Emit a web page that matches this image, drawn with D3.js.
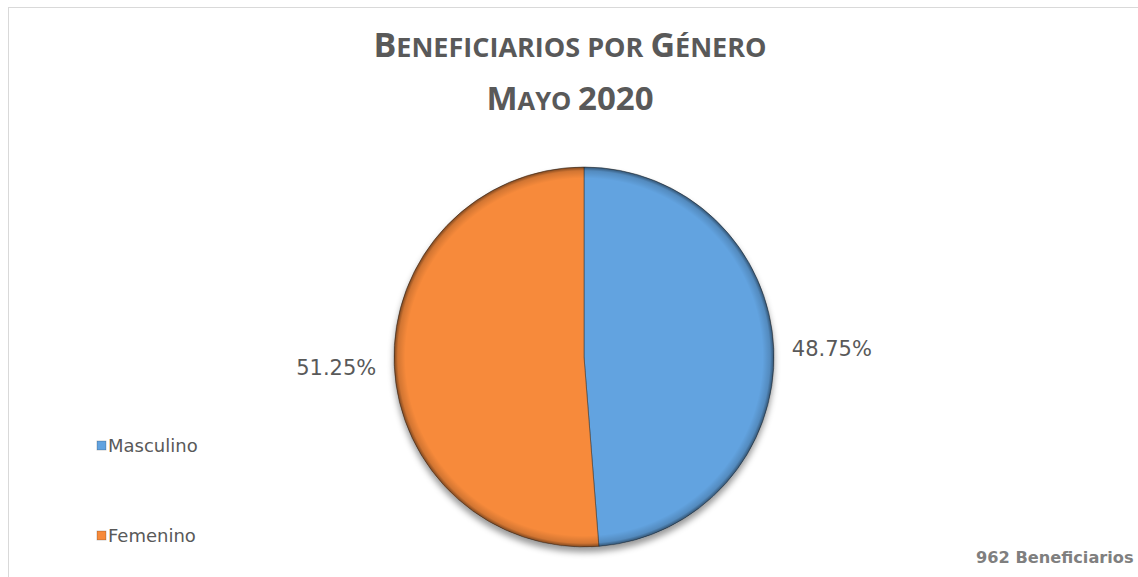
<!DOCTYPE html>
<html>
<head>
<meta charset="utf-8">
<script src="https://cdn.jsdelivr.net/npm/d3@7"></script>
<style>
  html, body { margin: 0; padding: 0; background: #fff; }
  svg { display: block; }
</style>
</head>
<body>
<svg id="chart" width="1138" height="577"></svg>
<script>
const categories = ["Masculino", "Femenino"];
const values = [469, 493];
const percentLabels = ["48.75%", "51.25%"];
const colors = ["#62A3E0", "#F78A3A"];
const titleLine1 = [["B", true], ["ENEFICIARIOS POR ", false], ["G", true], ["ÉNERO", false]];
const titleLine2 = [["M", true], ["AYO ", false], ["2020", true]];
const footerText = "962 Beneficiarios";

const svg = d3.select("#chart");
const W = 1138, H = 577;

// chart frame
svg.append("rect").attr("x", 8.5).attr("y", 7.5).attr("width", W + 10).attr("height", H + 10)
  .attr("fill", "#fff").attr("stroke", "#d9d9d9").attr("stroke-width", 1);

const defs = svg.append("defs");
const f = defs.append("filter").attr("id", "shadow").attr("x", "-20%").attr("y", "-20%").attr("width", "140%").attr("height", "140%");
f.append("feDropShadow").attr("dx", 0).attr("dy", 5).attr("stdDeviation", 3).attr("flood-color", "#000").attr("flood-opacity", 0.4);

const bev = defs.append("radialGradient").attr("id", "bevel").attr("cx", "50%").attr("cy", "50%").attr("r", "50%");
bev.append("stop").attr("offset", "0%").attr("stop-color", "#000").attr("stop-opacity", 0);
bev.append("stop").attr("offset", "94%").attr("stop-color", "#000").attr("stop-opacity", 0);
bev.append("stop").attr("offset", "98%").attr("stop-color", "#000").attr("stop-opacity", 0.15);
bev.append("stop").attr("offset", "100%").attr("stop-color", "#000").attr("stop-opacity", 0.5);

// title
function drawTitle(parts, y, big, small) {
  const t = svg.append("text").attr("x", 570).attr("y", y).attr("text-anchor", "middle")
    .attr("font-family", "'Open Sans', sans-serif").attr("font-weight", "bold").attr("fill", "#595959");
  parts.forEach(([s, isBig]) => t.append("tspan").attr("font-size", isBig ? big : small).text(s));
}
drawTitle(titleLine1, 57, 34, 27);
drawTitle(titleLine2, 110, 33, 25.5);

// pie
const cx = 584, cy = 357, R = 190;
const pie = d3.pie().sort(null).value(d => d)(values);
const arc = d3.arc().innerRadius(0).outerRadius(R);
const g = svg.append("g").attr("transform", `translate(${cx},${cy})`);
const slices = g.append("g").attr("filter", "url(#shadow)");
slices.selectAll("path").data(pie).join("path")
  .attr("d", arc).attr("fill", (d, i) => colors[i])
  .attr("stroke", "#3a3a3a").attr("stroke-opacity", 0.55).attr("stroke-width", 1);
g.append("circle").attr("r", R).attr("fill", "url(#bevel)");

// percent labels
const labelArc = d3.arc().innerRadius(248).outerRadius(248);
g.selectAll("text.lbl").data(pie).join("text").attr("class", "lbl")
  .attr("transform", d => `translate(${labelArc.centroid(d)})`)
  .attr("text-anchor", "middle").attr("dy", "0.4em")
  .attr("font-family", "'DejaVu Sans', sans-serif").attr("font-size", 21).attr("fill", "#595959")
  .text((d, i) => percentLabels[i]);

// legend
const leg = svg.append("g");
categories.forEach((c, i) => {
  const y = 446 + i * 90;
  leg.append("rect").attr("x", 97).attr("y", y - 5).attr("width", 9).attr("height", 9).attr("fill", colors[i])
    .attr("stroke", "#000").attr("stroke-opacity", 0.25).attr("stroke-width", 0.8);
  leg.append("text").attr("x", 108).attr("y", y).attr("dy", "0.35em")
    .attr("font-family", "'DejaVu Sans', sans-serif").attr("font-size", 18).attr("fill", "#595959").text(c);
});

// footer
svg.append("text").attr("x", 976).attr("y", 563)
  .attr("font-family", "'DejaVu Sans', sans-serif").attr("font-weight", "bold").attr("font-size", 16.2)
  .attr("fill", "#7f7f7f").text(footerText);
</script>
</body>
</html>
